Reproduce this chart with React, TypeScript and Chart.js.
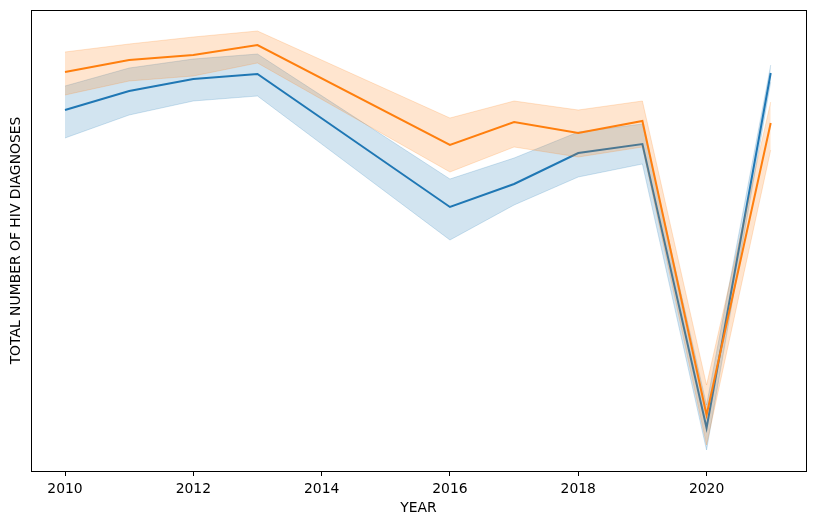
import { useEffect, useRef } from "react";
import { Chart, registerables } from "chart.js";

Chart.register(...registerables);

const years = [2010, 2011, 2012, 2013, 2016, 2017, 2018, 2019, 2020, 2021];
const xTickValues = [2010, 2012, 2014, 2016, 2018, 2020];

const blueMean = [1805, 1900, 1960, 1985, 1320, 1435, 1590, 1635, 215, 1990];
const blueUpper = [1925, 2015, 2060, 2085, 1460, 1565, 1695, 1735, 330, 2030];
const blueLower = [1665, 1780, 1850, 1875, 1155, 1330, 1470, 1535, 105, 1945];

const orangeMean = [1995, 2055, 2080, 2130, 1630, 1745, 1690, 1750, 280, 1740];
const orangeUpper = [2095, 2135, 2170, 2200, 1765, 1850, 1805, 1850, 430, 1845];
const orangeLower = [1880, 1950, 1975, 2040, 1495, 1620, 1570, 1620, 130, 1605];

const BLUE = "#1f77b4";
const ORANGE = "#ff7f0e";
const BLUE_BAND = "rgba(31,119,180,0.2)";
const ORANGE_BAND = "rgba(255,127,14,0.2)";

const FONT = "'DejaVu Sans', sans-serif";

const framePlugin = {
  id: "frame",
  afterDraw(chart: any) {
    const { ctx, chartArea } = chart;
    ctx.save();
    ctx.strokeStyle = "#000";
    ctx.lineWidth = 1;
    ctx.strokeRect(
      Math.round(chartArea.left) + 0.5,
      Math.round(chartArea.top) + 0.5,
      Math.round(chartArea.right - chartArea.left),
      Math.round(chartArea.bottom - chartArea.top)
    );
    ctx.restore();
  },
};

export default function App() {
  const ref = useRef<HTMLCanvasElement>(null);

  useEffect(() => {
    const pts = (arr: number[]) => years.map((x, i) => ({ x, y: arr[i] }));
    const band = (arr: number[], color: string, fill: any, order: number) => ({
      data: pts(arr),
      borderColor: color,
      backgroundColor: color,
      borderWidth: 1,
      pointRadius: 0,
      tension: 0,
      fill,
      order,
    });
    const chart = new Chart(ref.current!, {
      type: "line",
      data: {
        datasets: [
          band(blueUpper, BLUE_BAND, "+1", 4),
          band(blueLower, BLUE_BAND, false, 4),
          band(orangeUpper, ORANGE_BAND, "+1", 2),
          band(orangeLower, ORANGE_BAND, false, 2),
          {
            data: pts(blueMean),
            borderColor: BLUE,
            borderWidth: 2,
            pointRadius: 0,
            tension: 0,
            fill: false,
            order: 3,
          },
          {
            data: pts(orangeMean),
            borderColor: ORANGE,
            borderWidth: 2,
            pointRadius: 0,
            tension: 0,
            fill: false,
            order: 1,
          },
        ] as any,
      },
      options: {
        responsive: false,
        animation: false,
        devicePixelRatio: 1,
        layout: { padding: { left: 0, top: 10, right: 8, bottom: 0 } },
        plugins: {
          legend: { display: false },
          tooltip: { enabled: false },
        },
        scales: {
          x: {
            type: "linear",
            min: 2009.47,
            max: 2021.55,
            afterBuildTicks: (s: any) => {
              s.ticks = xTickValues.map((v) => ({ value: v }));
            },
            afterFit: (s: any) => {
              s.height = 54;
            },
            ticks: {
              color: "#000",
              padding: 5,
              font: { family: FONT, size: 13.9 },
              callback: (v: any) => String(v),
              maxRotation: 0,
              autoSkip: false,
            },
            grid: {
              display: true,
              drawOnChartArea: false,
              drawTicks: true,
              tickLength: 5,
              color: "#000",
            },
            border: { display: false },
            title: {
              display: true,
              text: "YEAR",
              color: "#000",
              font: { family: FONT, size: 13.9 },
              padding: { top: 0, bottom: 8 },
            },
          },
          y: {
            type: "linear",
            min: 0,
            max: 2305,
            afterFit: (s: any) => {
              s.width = 31;
            },
            ticks: { display: false },
            grid: { display: false },
            border: { display: false },
            title: {
              display: true,
              text: "TOTAL NUMBER OF HIV DIAGNOSES",
              color: "#000",
              font: { family: FONT, size: 13.9 },
              padding: { top: 8, bottom: 4 },
            },
          },
        },
      } as any,
      plugins: [framePlugin],
    });
    return () => chart.destroy();
  }, []);

  return (
    <div style={{ position: "absolute", left: 0, top: 0, width: 814, height: 525 }}>
      <canvas ref={ref} width={814} height={525} style={{ width: 814, height: 525 }} />
    </div>
  );
}
